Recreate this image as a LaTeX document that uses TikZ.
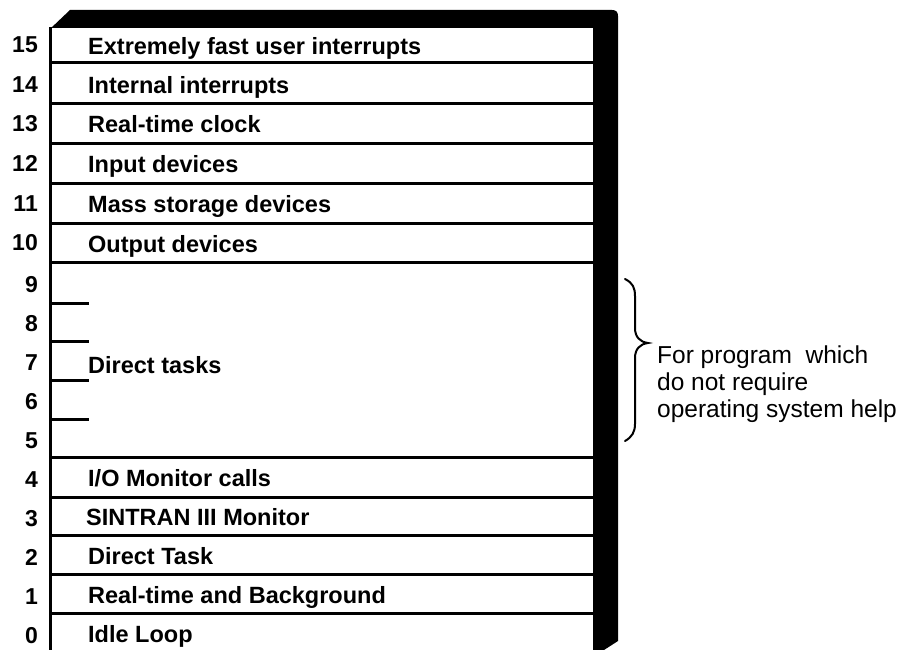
\documentclass[tikz,border=0pt]{standalone}
\usepackage{fontspec}
\setmainfont{Liberation Sans}
\begin{document}
\begin{tikzpicture}[x=1pt,y=-1pt,
  rowline/.style={line width=3pt},
  tickline/.style={line width=3pt},
  lvl/.style={anchor=base east,inner sep=0pt,font=\fontsize{23}{26}\selectfont\bfseries},
  lbl/.style={anchor=base west,inner sep=0pt,font=\fontsize{23.5}{26}\selectfont\bfseries},
  note/.style={anchor=base west,inner sep=0pt,align=left,font=\fontsize{24.5}{27}\selectfont},
  brace/.style={line width=2pt,line cap=round}]
\useasboundingbox (0,0) rectangle (898,650);
% black frame: top band and right bar
\fill (50,29) -- (70,10) -- (612,10) .. controls (616,10) and (618,12) .. (618,16)
   -- (618,641) -- (604,650) -- (593,650) -- (593,28) -- (50,28) -- cycle;
% left edge
\draw[line width=3pt] (50,27) -- (50,650);
% row separators
\foreach \yy in {63,104,144,184,224,263,457,497,535,574,613}
  \draw[rowline] (50,\yy) -- (593,\yy);
% ticks inside direct tasks
\foreach \yy in {303,341,380,419}
  \draw[tickline] (50,\yy) -- (89,\yy);
% level numbers
\node[lvl] (n15) at (38,53) {15};
\node[lvl] (n14) at (38,93) {14};
\node[lvl] (n13) at (38,132) {13};
\node[lvl] (n12) at (38,172) {12};
\node[lvl] (n11) at (38,212) {11};
\node[lvl] (n10) at (38,251) {10};
\node[lvl] (n9) at (38,292) {9};
\node[lvl] (n8) at (38,331) {8};
\node[lvl] (n7) at (38,370) {7};
\node[lvl] (n6) at (38,409) {6};
\node[lvl] (n5) at (38,448) {5};
\node[lvl] (n4) at (38,487) {4};
\node[lvl] (n3) at (38,526) {3};
\node[lvl] (n2) at (38,565) {2};
\node[lvl] (n1) at (38,604) {1};
\node[lvl] (n0) at (38,643) {0};
% row labels
\node[lbl] (t15) at (88,55) {Extremely fast user interrupts};
\node[lbl] (t14) at (88,94) {Internal interrupts};
\node[lbl] (t13) at (88,133) {Real-time clock};
\node[lbl] (t12) at (88,173) {Input devices};
\node[lbl] (t11) at (88,213) {Mass storage devices};
\node[lbl] (t10) at (88,252) {Output devices};
\node[lbl] (tdt) at (88,373) {Direct tasks};
\node[lbl] (t4) at (88,486) {I/O Monitor calls};
\node[lbl] (t3) at (86,525) {SINTRAN III Monitor};
\node[lbl] (t2) at (88,564) {Direct Task};
\node[lbl] (t1) at (88,603) {Real-time and Background};
\node[lbl] (t0) at (88,642) {Idle Loop};
% brace
\draw[brace] (625,279) .. controls (633,283) and (635,288) .. (635,296) -- (635,328)
   .. controls (635,337) and (640,342) .. (648,343)
   .. controls (640,344) and (635,349) .. (635,358) -- (635,424)
   .. controls (635,432) and (632,437) .. (625,441);
\node[note] (note) at (657,417) {For program\ \ which\\do not require\\operating system help};
\end{tikzpicture}
\end{document}
